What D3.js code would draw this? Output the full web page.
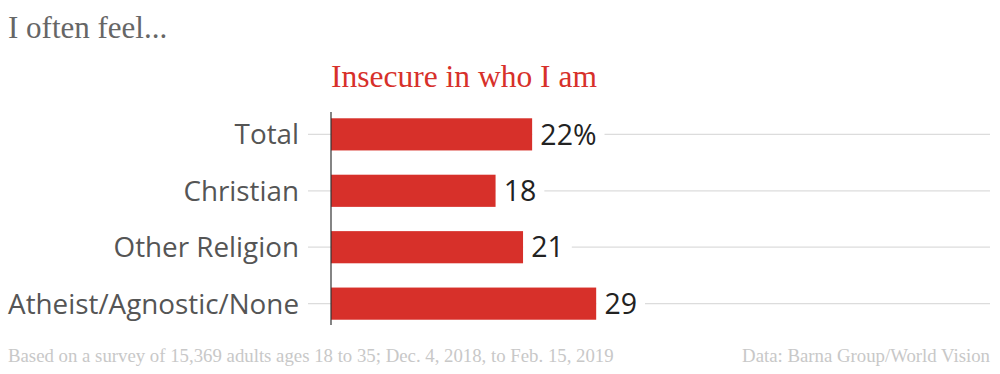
<!DOCTYPE html>
<meta charset="utf-8">
<head>
<script src="https://cdn.jsdelivr.net/npm/d3@7"></script>
<style>
	body { margin: 0; background: #fff; }
	svg { display: block; }
</style>
</head>
<body>
<div id="chart"></div>
<script>

const categories = ['Total', 'Christian', 'Other Religion', 'Atheist/Agnostic/None']
const values = [22, 18, 21, 29]
const valueLabels = ['22%', '18', '21', '29']

const width = 1000, height = 374
const margin = {top: 107, left: 331, right: 10}
const rowHeight = 56

const red = '#d7302a'
const serif = '"Liberation Serif", "Times New Roman", serif'
const sans = '"Open Sans", "Noto Sans", sans-serif'

const svg = d3.select('#chart').append('svg')
	.attr('width', width)
	.attr('height', height)

// titles
svg.append('text')
	.attr('x', 8).attr('y', 38)
	.attr('font-family', serif)
	.attr('font-size', 31)
	.attr('fill', '#666')
	.text('I often feel...')

svg.append('text')
	.attr('x', margin.left).attr('y', 87)
	.attr('font-family', serif)
	.attr('font-size', 31.5)
	.attr('fill', red)
	.text('Insecure in who I am')

const x = d3.scaleLinear()
	.domain([0, 72])
	.range([margin.left, width - margin.right])

const y = d3.scaleBand()
	.domain(categories)
	.range([margin.top, margin.top + rowHeight * categories.length])
	.paddingInner(0.43)
	.paddingOuter(0.2)

const rows = svg.selectAll('.row')
	.data(categories)
	.enter().append('g')
		.attr('class', 'row')
		.attr('transform', d => `translate(0,${y(d) + y.bandwidth() / 2})`)

// gridline through each row, incl. the little tick left of the axis
rows.append('line')
	.attr('x1', margin.left - 23)
	.attr('x2', x.range()[1])
	.attr('stroke', '#dcdcdc')
	.attr('stroke-width', 1.2)

rows.append('rect')
	.attr('x', x(0))
	.attr('y', -y.bandwidth() / 2)
	.attr('width', (d, i) => x(values[i]) - x(0))
	.attr('height', y.bandwidth())
	.attr('fill', red)

// value labels with white backing to break the gridline
const vl = rows.append('g')
	.attr('transform', (d, i) => `translate(${x(values[i]) + 8},0)`)

vl.append('text')
	.attr('dy', '0.36em')
	.attr('font-family', sans)
	.attr('font-size', 28.5)
	.attr('fill', '#222')
	.text((d, i) => valueLabels[i])
	.each(function() {
		const bb = this.getBBox()
		d3.select(this.parentNode).insert('rect', 'text')
			.attr('x', -8)
			.attr('y', bb.y)
			.attr('width', bb.width + 16)
			.attr('height', bb.height)
			.attr('fill', '#fff')
	})

rows.append('text')
	.attr('x', margin.left - 32)
	.attr('dy', '0.36em')
	.attr('text-anchor', 'end')
	.attr('font-family', sans)
	.attr('font-size', 27.8)
	.attr('fill', '#555')
	.text(d => d)

// axis line
svg.append('line')
	.attr('x1', margin.left).attr('x2', margin.left)
	.attr('y1', margin.top + 5)
	.attr('y2', margin.top + rowHeight * categories.length - 6)
	.attr('stroke', '#333')
	.attr('stroke-width', 1.2)

// footer
svg.append('text')
	.attr('x', 8).attr('y', 362)
	.attr('font-family', serif)
	.attr('font-size', 18.8)
	.attr('fill', '#c8c8c8')
	.text('Based on a survey of 15,369 adults ages 18 to 35; Dec. 4, 2018, to Feb. 15, 2019')

svg.append('text')
	.attr('x', 990).attr('y', 362)
	.attr('text-anchor', 'end')
	.attr('font-family', serif)
	.attr('font-size', 18.8)
	.attr('fill', '#c8c8c8')
	.text('Data: Barna Group/World Vision')

</script>
</body>
